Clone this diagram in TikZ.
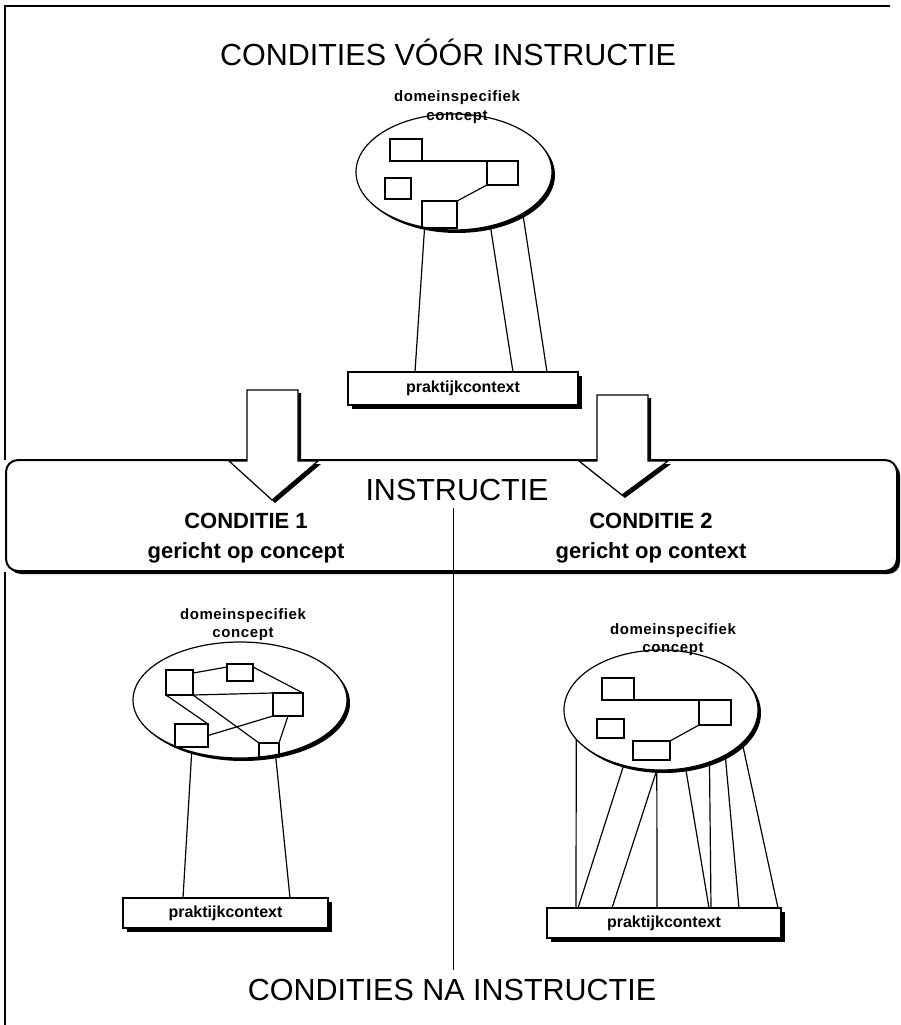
\documentclass[tikz,border=0pt]{standalone}
\usepackage{fontspec}
\setmainfont{Liberation Sans}
\newfontfamily\lblfont[LetterSpace=4]{Liberation Sans}
\usetikzlibrary{calc,shapes.geometric,shadows}

\begin{document}
\begin{tikzpicture}[x=1pt,y=-1pt,line width=1.2pt,
    shdw/.style={drop shadow={opacity=1,fill=black,shadow xshift=3pt,shadow yshift=-3pt}},
    concept/.style={ellipse,draw,fill=white,inner sep=0pt,outer sep=0pt,shdw},
    cbox/.style={rectangle,draw,inner sep=0pt,outer sep=0pt},
    prak/.style={rectangle,draw,fill=white,inner sep=0pt,outer sep=0pt,
      font=\bfseries\fontsize{16}{18}\selectfont,
      drop shadow={opacity=1,fill=black,shadow xshift=4pt,shadow yshift=-4pt}},
    lbl/.style={font=\lblfont\bfseries\fontsize{15}{18.5}\selectfont,align=center},
    bigtitle/.style={font=\fontsize{30.5}{36}\selectfont},
    cond/.style={font=\bfseries\fontsize{22}{30}\selectfont,align=center},
    blockarrow/.style={draw,fill=white,shdw}]
  \useasboundingbox (0,0) rectangle (901,1025);

  % frame
  \draw[line width=2.5pt] (5,460) -- (5,6) -- (890,6);
  \draw[line width=2.5pt] (5,572) -- (5,1025);

  % Before instruction
  \node[bigtitle] (titel) at (448,52) {CONDITIES VÓÓR INSTRUCTIE};
  \node[concept,minimum width=196pt,minimum height=116pt] (conc0) at (454,172) {};
  \node[lbl] (lbl0) at (457,107) {domeinspecifiek\\concept};
  \node[cbox,minimum width=32pt,minimum height=22pt] (t1) at (406,150) {};
  \node[cbox,minimum width=31pt,minimum height=24pt] (t2) at (502.5,173) {};
  \node[cbox,minimum width=26pt,minimum height=21pt] (t3) at (398,188.5) {};
  \node[cbox,minimum width=35pt,minimum height=27pt] (t4) at (439.5,214.5) {};
  \draw (t1.south east) -- (t2.north west);
  \draw (t2.south west) -- (t4.north east);
  \node[prak,minimum width=230pt,minimum height=33pt] (prak0) at (463,388.5) {praktijkcontext};
  \draw (conc0.242) -- ($(prak0.north west)+(67,0)$);
  \draw (conc0.304) -- ($(prak0.north west)+(165,0)$);
  \draw (conc0.329) -- ($(prak0.north west)+(199,0)$);

  % Instruction band
  \draw[line width=2pt,rounded corners=12pt,fill=white,shdw] (6,460) rectangle (897,571);
  \foreach \cx/\ty/\tip in {272/390/500, 622/395/495}
    \draw[blockarrow] (\cx-25,\ty) -- (\cx+26,\ty) -- (\cx+26,461) -- (\cx+46,461)
      -- (\cx,\tip) -- (\cx-43,461) -- (\cx-25,461) -- cycle;
  \coordinate (dtop) at (453,508);
  \coordinate (dbot) at (453,970);
  \draw[line width=1pt] (dtop) -- (dbot);
  \node[bigtitle] (instr) at (457,490) {INSTRUCTIE};
  \node[cond] (cond1) at (246,538) {CONDITIE 1\\gericht op concept};
  \node[cond] (cond2) at (651,538) {CONDITIE 2\\gericht op context};

  % Condition 1
  \node[concept,minimum width=214pt,minimum height=116pt] (conc1) at (240,700) {};
  \node[lbl] (lbl1) at (243,624.5) {domeinspecifiek\\concept};
  \node[cbox,minimum width=27pt,minimum height=25pt] (a1) at (179.5,682.5) {};
  \node[cbox,minimum width=26pt,minimum height=17pt] (a2) at (240,672.5) {};
  \node[cbox,minimum width=30pt,minimum height=23pt] (a3) at (288,704.5) {};
  \node[cbox,minimum width=33pt,minimum height=23pt] (a4) at (191.5,735.5) {};
  \node[cbox,minimum width=20pt,minimum height=14pt] (a5) at (269,750) {};
  \draw (a1.35) -- (a2.157);
  \draw (a2.23) -- (a3.north east);
  \draw (a1.south east) -- (a3.north west);
  \draw (a1.south west) -- (a4.north east);
  \draw (a1.south east) -- (a5.north west);
  \draw (a4.east) -- (a3.south west);
  \draw (a5.north east) -- (a3.south);
  \node[prak,minimum width=205pt,minimum height=30pt] (prak1) at (225.5,913) {praktijkcontext};
  \draw (conc1.227) -- ($(prak1.north west)+(60,0)$);
  \draw (conc1.303) -- ($(prak1.north west)+(167,0)$);

  % Condition 2
  \node[concept,minimum width=194pt,minimum height=120pt] (conc2) at (661,710) {};
  \node[lbl] (lbl2) at (673,639.5) {domeinspecifiek\\concept};
  \node[cbox,minimum width=32pt,minimum height=22pt] (b1) at (618,689) {};
  \node[cbox,minimum width=32pt,minimum height=25pt] (b2) at (715,712.5) {};
  \node[cbox,minimum width=27pt,minimum height=19pt] (b3) at (610.5,728.5) {};
  \node[cbox,minimum width=37pt,minimum height=19pt] (b4) at (651.5,750.5) {};
  \draw (b1.south east) -- (b2.north west);
  \draw (b2.south west) -- (b4.north east);
  \node[prak,minimum width=234pt,minimum height=30pt] (prak2) at (664,923) {praktijkcontext};
  \foreach \a/\o in {199/29, 236/31, 266/65, 266/110, 293/162, 313/164, 325/192, 338/231}
    \draw (conc2.\a) -- ($(prak2.north west)+(\o,0)$);

  % After instruction
  \node[bigtitle] (titelna) at (452,990) {CONDITIES NA INSTRUCTIE};
\end{tikzpicture}
\end{document}
